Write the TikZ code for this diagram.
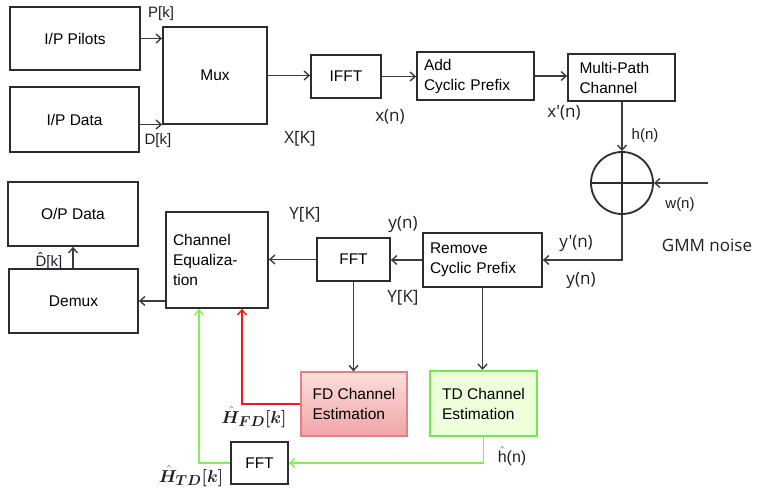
\documentclass[tikz,border=0pt]{standalone}
\usepackage{fontspec}
\usepackage{bm}
\setmainfont{Liberation Sans}
\newfontfamily\lblfont{Open Sans}
\usetikzlibrary{arrows.meta,positioning,calc,shadings}
\definecolor{boxline}{RGB}{45,45,45}
\definecolor{arrline}{RGB}{60,60,60}
\definecolor{gline}{RGB}{130,240,80}
\definecolor{rline}{RGB}{250,20,20}
\definecolor{fdtop}{RGB}{253,222,222}
\definecolor{fdbot}{RGB}{240,165,165}
\definecolor{fdborder}{RGB}{225,130,130}
\definecolor{tdfill}{RGB}{238,255,220}
\definecolor{tdborder}{RGB}{110,235,70}
\definecolor{lbl}{RGB}{30,30,40}
\begin{document}
\begin{tikzpicture}[x=1pt,y=-1pt,
  blk/.style={draw=boxline,line width=1.8pt,fill=white,inner sep=0pt,
    font=\fontsize{15.5}{20}\selectfont,align=center},
  lblk/.style={blk,align=left,text width=#1},
  arr/.style={draw=arrline,line width=1.6pt,-{Straight Barb[length=5pt,width=9pt,line width=1.4pt]}},
  garr/.style={arr,draw=gline},
  rarr/.style={arr,draw=rline},
  lab/.style={font=\lblfont\fontsize{17}{20}\selectfont,text=lbl,inner sep=0pt},
  slab/.style={font=\fontsize{15}{17}\selectfont,text=lbl,inner sep=0pt},
  mlab/.style={font=\fontsize{19}{22}\selectfont,text=lbl,inner sep=0pt}]
\useasboundingbox (0,0) rectangle (761,494);
\fill[white] (0,0) rectangle (761,494);

% blocks
\node[blk,minimum width=130,minimum height=63] (pilots) at (75,38.5) {I/P Pilots};
\node[blk,minimum width=129,minimum height=65] (data) at (74.5,119.5) {I/P Data};
\node[blk,minimum width=104,minimum height=97] (mux) at (215,75.5) {Mux};
\node[blk,minimum width=70,minimum height=43] (ifft) at (346,76.5) {IFFT};
\node[lblk=103pt,minimum width=117,minimum height=48] (addcp) at (475.5,76) {Add\\Cyclic Prefix};
\node[lblk=90pt,minimum width=107,minimum height=47] (mpc) at (621.5,77.5) {\hspace*{3pt}Multi-Path\\\hspace*{3pt}Channel};
\node[draw=boxline,line width=1.8pt,circle,minimum size=62,inner sep=0pt] (sum) at (622,183) {};
\draw[boxline,line width=1.6pt] (sum.north) -- (sum.south) (sum.west) -- (sum.east);
\node[lblk=105pt,minimum width=119,minimum height=54] (remcp) at (482.5,260) {Remove\\Cyclic Prefix};
\node[blk,minimum width=73,minimum height=43] (fft1) at (353.5,259.5) {FFT};
\node[lblk=88pt,minimum width=102,minimum height=96] (cheq) at (217,260) {Channel\\Equaliza-\\tion};
\node[blk,minimum width=130,minimum height=64] (opdata) at (73,214) {O/P Data};
\node[blk,minimum width=129,minimum height=64] (demux) at (73.5,301) {Demux};
\node[blk,draw=fdborder,line width=1.2pt,top color=fdtop,bottom color=fdbot,align=left,
  minimum width=106,minimum height=64] (fdce) at (354,404) {FD Channel\\Estimation};
\node[blk,draw=tdborder,line width=2pt,fill=tdfill,align=left,
  minimum width=107,minimum height=65] (tdce) at (483.5,403.5) {TD Channel\\Estimation};
\node[blk,minimum width=57,minimum height=42] (fft2) at (259.5,463) {FFT};

% connectors
\draw[arr] (pilots.east) -- (pilots.east -| mux.west);
\draw[arr] ([yshift=-5]data.east) -- ([yshift=-5]data.east -| mux.west);
\draw[arr] (mux.east) -- (mux.east -| ifft.west);
\draw[arr] (ifft.east) -- (ifft.east -| addcp.west);
\draw[arr] (addcp.east) -- (addcp.east -| mpc.west);
\draw[arr] (mpc.south -| sum.north) -- (sum.north);
\coordinate (wn) at (708,183);
\draw[arr] (wn) -- (sum.east);
\draw[arr] (sum.south) |- (remcp.east);
\draw[arr] (remcp.west) -- (remcp.west -| fft1.east);
\draw[arr] (fft1.west) -- (fft1.west -| cheq.east);
\draw[arr] (cheq.west |- demux.east) -- (demux.east);
\draw[arr] (demux.north -| opdata.south) -- (opdata.south);
\draw[arr] (fft1.south) -- (fft1.south |- fdce.north);
\draw[arr] (remcp.south) -- (remcp.south |- tdce.north);
\draw[garr] (tdce.south) |- (fft2.east);
\draw[rarr] (fdce.west) -| ([xshift=25]cheq.south);
\draw[garr] (fft2.west) -| ([xshift=-18]cheq.south);

% labels
\node[slab] at (161,14) {P[k]};
\node[slab] at (158,141) {D[k]};
\node[lab] at (300,139) {X[K]};
\node[lab] at (390,117) {x(n)};
\node[lab] at (564,113) {x'(n)};
\node[slab] at (645,136) {h(n)};
\node[slab] at (680,205) {w(n)};
\node[lab] at (707,245) {GMM noise};
\node[lab] at (576,243) {y'(n)};
\node[lab] at (581,280) {y(n)};
\node[lab] at (403,224) {y(n)};
\node[lab] at (403,298) {Y[K]};
\node[lab] at (305,215) {Y[K]};
\node[slab] at (49,261) {\^{D}[k]};
\node[mlab] at (254,417) {$\bm{\hat{H}_{FD}[k]}$};
\node[mlab] at (191,476) {$\bm{\hat{H}_{TD}[k]}$};
\node[slab,font=\rmfamily\fontsize{16}{18}\selectfont] at (512,456) {$\hat{\mathrm{h}}$(n)};
\end{tikzpicture}
\end{document}
